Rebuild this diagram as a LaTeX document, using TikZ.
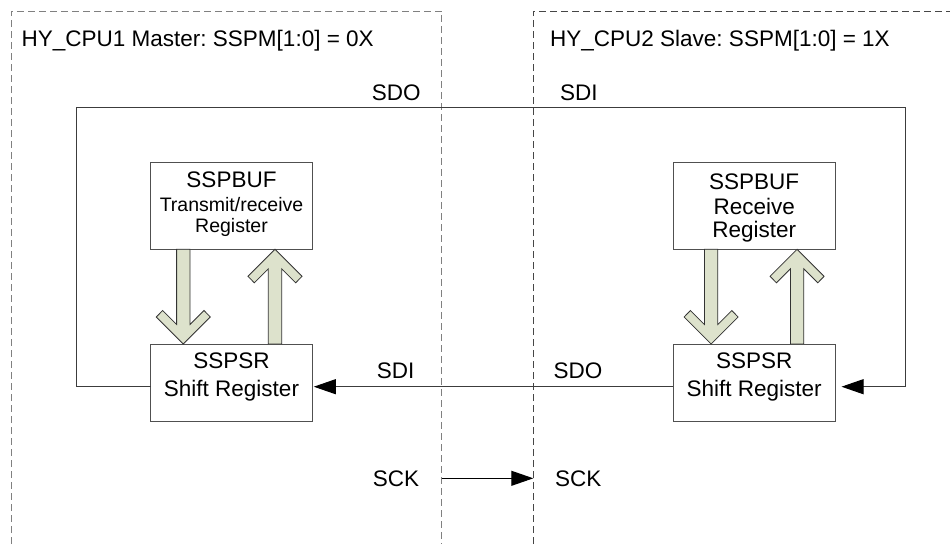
\documentclass[tikz,border=0pt]{standalone}
\usepackage{fontspec}
\setmainfont{Liberation Sans}
\usetikzlibrary{arrows.meta,calc}
\definecolor{arrowfill}{RGB}{221,226,204}
\definecolor{wiregray}{RGB}{60,60,60}
\definecolor{boxgray}{RGB}{80,80,80}
\definecolor{dashgrayL}{RGB}{128,128,128}
\definecolor{dashgrayR}{RGB}{70,70,70}
\newcommand\blkdown[2]{\filldraw[blk] (#2) -- ++(-27,-27) -- ++(6.3,-6.5) -- ++(14,14) -- ($(#1)+(-6.7,0)$) -- ($(#1)+(6.7,0)$) -- ($(#2)+(6.7,-19.5)$) -- ++(14,-14) -- ++(6.3,6.5) -- cycle;}
\newcommand\blkup[2]{\filldraw[blk] (#2) -- ++(-27,27) -- ++(6.3,6.5) -- ++(14,-14) -- ($(#1)+(-6.7,0)$) -- ($(#1)+(6.7,0)$) -- ($(#2)+(6.7,19.5)$) -- ++(14,14) -- ++(6.3,-6.5) -- cycle;}
\frenchspacing
\begin{document}
\begin{tikzpicture}[x=1pt,y=-1pt,
  regbox/.style={draw=boxgray,line width=1pt,fill=white,inner sep=0pt,outer sep=0pt,minimum width=161.6pt},
  txt/.style={inner sep=0pt,font=\fontsize{22.5}{27}\selectfont},
  smalltxt/.style={inner sep=0pt,font=\fontsize{19.5}{23}\selectfont},
  wire/.style={draw=wiregray,line width=1pt},
  arr/.style={-{Triangle[length=22pt,width=15pt,color=black]}},
  dashbox/.style={line width=1pt,dash pattern=on 7pt off 4pt},
  blk/.style={fill=arrowfill,draw=black!80,line width=0.8pt,line join=miter}]
\useasboundingbox (0,0) rectangle (950,544);
\fill[white] (0,0) rectangle (950,544);

% dashed device frames
\draw[dashbox,draw=dashgrayL] (11,544) -- (11,11) -- (441.7,11) -- (441.7,544);
\draw[dashbox,draw=dashgrayR] (533.3,544) -- (533.3,11) -- (950,11);

% frame titles
\node[txt,anchor=base west] (titleL) at (21.5,46.7) {HY\_CPU1 Master: SSPM[1:0] = 0X};
\node[txt,anchor=base west] (titleR) at (550,46.7) {HY\_CPU2 Slave: SSPM[1:0] = 1X};

% register boxes
\node[regbox,minimum height=87pt] (bufL) at (231.5,205.8) {};
\node[regbox,minimum height=77pt] (srL) at (231.5,382.5) {};
\node[regbox,minimum height=87pt] (bufR) at (754.2,205.8) {};
\node[regbox,minimum height=77pt] (srR) at (754.2,382.5) {};

% box texts
\node[txt,anchor=base] (bufLa) at (231.5,187.8) {SSPBUF};
\node[smalltxt,anchor=base] (bufLb) at (231.5,211.5) {Transmit/receive};
\node[smalltxt,anchor=base] (bufLc) at (231.5,232.5) {Register};
\node[txt,anchor=base] (bufRa) at (754.2,189) {SSPBUF};
\node[txt,anchor=base] (bufRb) at (754.2,214.5) {Receive};
\node[txt,anchor=base] (bufRc) at (754.2,237.3) {Register};
\node[txt,anchor=base] (srLa) at (231.5,368.3) {SSPSR};
\node[txt,anchor=base] (srLb) at (231.5,396) {Shift Register};
\node[txt,anchor=base] (srRa) at (754.2,368.3) {SSPSR};
\node[txt,anchor=base] (srRb) at (754.2,396) {Shift Register};

% block arrows between buffer and shift register
\coordinate (dLa) at ($(bufL.south west)+(32.6,0)$);
\coordinate (dLb) at ($(srL.north west)+(32.6,0)$);
\coordinate (uLa) at ($(srL.north west)+(124.3,0)$);
\coordinate (uLb) at ($(bufL.south west)+(124.3,0)$);
\coordinate (dRa) at ($(bufR.south west)+(37.7,0)$);
\coordinate (dRb) at ($(srR.north west)+(37.7,0)$);
\coordinate (uRa) at ($(srR.north west)+(123.7,0)$);
\coordinate (uRb) at ($(bufR.south west)+(123.7,0)$);
\blkdown{dLa}{dLb}
\blkup{uLa}{uLb}
\blkdown{dRa}{dRb}
\blkup{uRa}{uRb}

% wires
\coordinate (wLw) at ($(srL.west)+(0,4.2)$);
\coordinate (wLe) at ($(srL.east)+(0,4.2)$);
\coordinate (wRw) at ($(srR.west)+(0,4.2)$);
\coordinate (wRe) at ($(srR.east)+(0,4.2)$);
\coordinate (c1) at (76,386.7);
\coordinate (c2) at (76,107.3);
\coordinate (c3) at (905.7,107.3);
\coordinate (c4) at (905.7,386.7);
\draw[wire,arr,shorten >=6.5pt] (wLw) -- (c1) -- (c2) -- (c3) -- (c4) -- (wRe);
\draw[wire,arr,shorten >=1.5pt] (wRw) -- (wLe);
\coordinate (sckA) at (441.7,478.3);
\coordinate (sckB) at (533.3,478.3);
\draw[wire,draw=black,arr] (sckA) -- (sckB);

% signal labels
\node[txt,anchor=base west] (lSDOt) at (371.7,100.7) {SDO};
\node[txt,anchor=base west] (lSDIt) at (560,100.7) {SDI};
\node[txt,anchor=base west] (lSDIb) at (376.7,378.3) {SDI};
\node[txt,anchor=base west] (lSDOb) at (553.3,378.3) {SDO};
\node[txt,anchor=base west] (lSCKl) at (372.7,486.7) {SCK};
\node[txt,anchor=base west] (lSCKr) at (555,486.7) {SCK};
\end{tikzpicture}
\end{document}
